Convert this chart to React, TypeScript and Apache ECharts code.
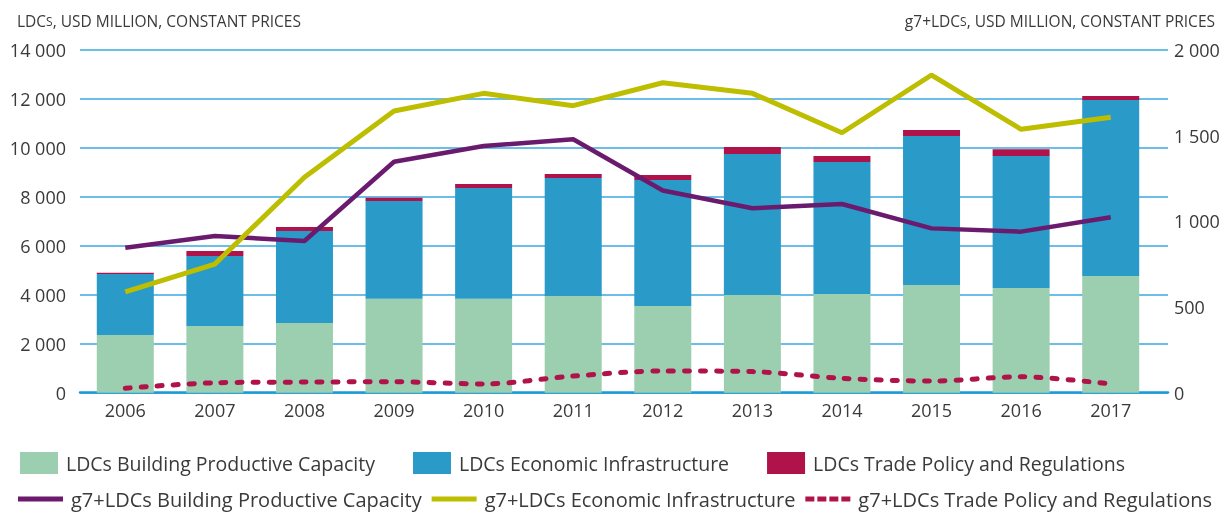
import React, { useEffect, useRef } from "react";
import * as echarts from "echarts";

const years = ["2006", "2007", "2008", "2009", "2010", "2011", "2012", "2013", "2014", "2015", "2016", "2017"];
const ldcBuilding = [2357, 2725, 2848, 3841, 3841, 3951, 3543, 3992, 4033, 4401, 4278, 4768];
const ldcInfra = [2493, 2860, 3759, 3992, 4523, 4822, 5148, 5761, 5393, 6088, 5394, 7192];
const ldcTrade = [50, 205, 163, 135, 164, 163, 204, 286, 246, 245, 273, 163];
const g7Building = [846, 915, 885, 1348, 1440, 1479, 1180, 1076, 1101, 959, 940, 1024];
const g7Infra = [589, 751, 1257, 1644, 1747, 1675, 1809, 1747, 1517, 1854, 1537, 1607];
const g7Trade = [26, 58, 62, 64, 51, 97, 127, 123, 84, 68, 93, 51];
const leftTicks = { min: 0, max: 14000, interval: 2000 };
const rightTicks = { min: 0, max: 2000, interval: 500 };

const FONT = "Open Sans";
const TXT = "#3a3a3a";
const fmt = (v: number) => String(v).replace(/\B(?=(\d{3})+(?!\d))/g, " ");

const SOLID_ICON = "path://M0,0 H45 V5 H0 Z";
const DOT_ICON = "path://M0,0 H9 V5 H0 Z M12,0 H21 V5 H12 Z M24,0 H33 V5 H24 Z M36,0 H45 V5 H36 Z";

export default function App() {
  const ref = useRef<HTMLDivElement>(null);
  useEffect(() => {
    document.body.style.margin = "0";
    const chart = echarts.init(ref.current!, null, { renderer: "svg" });
    const gridTop = 50;
    const gridBottom = 124.3;
    const titleStyle = {
      fontFamily: FONT,
      fontSize: 15.5,
      fontWeight: "normal",
      color: TXT,
      rich: { s: { fontFamily: FONT, fontSize: 12, color: TXT } },
    };
    chart.setOption({
      animation: false,
      textStyle: { fontFamily: FONT },
      title: [
        { text: "LDC{s|S}, USD MILLION, CONSTANT PRICES", left: 12, top: 8, textStyle: titleStyle },
        { text: "g7+LDC{s|S}, USD MILLION, CONSTANT PRICES", right: 12, top: 8, textStyle: titleStyle },
      ],
      grid: [
        { left: 80, right: 64, top: gridTop, bottom: gridBottom },
        { left: 80.5, right: 76.5, top: gridTop, bottom: gridBottom },
      ],
      legend: [
        {
          data: ["LDCs Building Productive Capacity", "LDCs Economic Infrastructure", "LDCs Trade Policy and Regulations"],
          left: 20,
          top: 452,
          padding: 0,
          itemWidth: 38,
          itemHeight: 22,
          itemGap: 38,
          icon: "rect",
          textStyle: { fontFamily: FONT, fontSize: 19.5, color: TXT, padding: [0, 0, 0, 3] },
        },
        {
          data: [
            { name: "g7+LDCs Building Productive Capacity", icon: SOLID_ICON },
            { name: "g7+LDCs Economic Infrastructure", icon: SOLID_ICON },
            { name: "g7+LDCs Trade Policy and Regulations", icon: DOT_ICON },
          ],
          left: 18,
          top: 489,
          padding: 0,
          itemWidth: 45,
          itemHeight: 5,
          itemGap: 10,
          textStyle: { fontFamily: FONT, fontSize: 20, color: TXT, padding: [0, 0, 0, 3] },
        },
      ],
      xAxis: [
        {
          type: "category",
          gridIndex: 0,
          data: years,
          axisLine: { show: true, lineStyle: { color: "#1c9ad6", width: 2.5 } },
          axisTick: { show: false },
          axisLabel: { show: false },
          splitLine: { show: false },
        },
        {
          type: "category",
          gridIndex: 1,
          data: years,
          axisLine: { show: false },
          axisTick: { show: false },
          axisLabel: { fontFamily: FONT, fontSize: 18, color: TXT, margin: 8 },
        },
      ],
      yAxis: [
        {
          type: "value",
          gridIndex: 0,
          position: "left",
          ...leftTicks,
          axisLine: { show: false },
          axisTick: { show: false },
          axisLabel: { fontFamily: FONT, fontSize: 18, color: TXT, margin: 14, formatter: fmt },
          splitLine: { show: true, lineStyle: { color: "#3aa9e0", width: 1.5 } },
        },
        {
          type: "value",
          gridIndex: 0,
          position: "right",
          ...rightTicks,
          axisLine: { show: false },
          axisTick: { show: false },
          axisLabel: { fontFamily: FONT, fontSize: 18, color: TXT, margin: 6, formatter: fmt },
          splitLine: { show: false },
        },
        { type: "value", gridIndex: 1, ...leftTicks, show: false, splitLine: { show: false } },
        { type: "value", gridIndex: 1, ...rightTicks, show: false, splitLine: { show: false } },
      ],
      series: [
        {
          name: "LDCs Building Productive Capacity",
          type: "bar",
          stack: "ldc",
          xAxisIndex: 1,
          yAxisIndex: 2,
          barWidth: 57,
          data: ldcBuilding,
          itemStyle: { color: "#9ccfb0" },
        },
        {
          name: "LDCs Economic Infrastructure",
          type: "bar",
          stack: "ldc",
          xAxisIndex: 1,
          yAxisIndex: 2,
          barWidth: 57,
          data: ldcInfra,
          itemStyle: { color: "#2a9ac8" },
        },
        {
          name: "LDCs Trade Policy and Regulations",
          type: "bar",
          stack: "ldc",
          xAxisIndex: 1,
          yAxisIndex: 2,
          barWidth: 57,
          data: ldcTrade,
          itemStyle: { color: "#b0124a" },
        },
        {
          name: "g7+LDCs Building Productive Capacity",
          type: "line",
          xAxisIndex: 1,
          yAxisIndex: 3,
          data: g7Building,
          symbol: "none",
          z: 5,
          lineStyle: { color: "#6a1b6e", width: 4.5 },
          itemStyle: { color: "#6a1b6e" },
        },
        {
          name: "g7+LDCs Economic Infrastructure",
          type: "line",
          xAxisIndex: 1,
          yAxisIndex: 3,
          data: g7Infra,
          symbol: "none",
          z: 5,
          lineStyle: { color: "#bdbe00", width: 5 },
          itemStyle: { color: "#bdbe00" },
        },
        {
          name: "g7+LDCs Trade Policy and Regulations",
          type: "line",
          xAxisIndex: 1,
          yAxisIndex: 3,
          data: g7Trade,
          symbol: "none",
          smooth: 0.3,
          z: 5,
          lineStyle: { color: "#b0124a", width: 5, type: [5, 11], cap: "round" },
          itemStyle: { color: "#b0124a" },
        },
      ],
    });
    return () => chart.dispose();
  }, []);
  return <div ref={ref} style={{ position: "fixed", left: 0, top: 0, width: 1232, height: 517 }} />;
}
